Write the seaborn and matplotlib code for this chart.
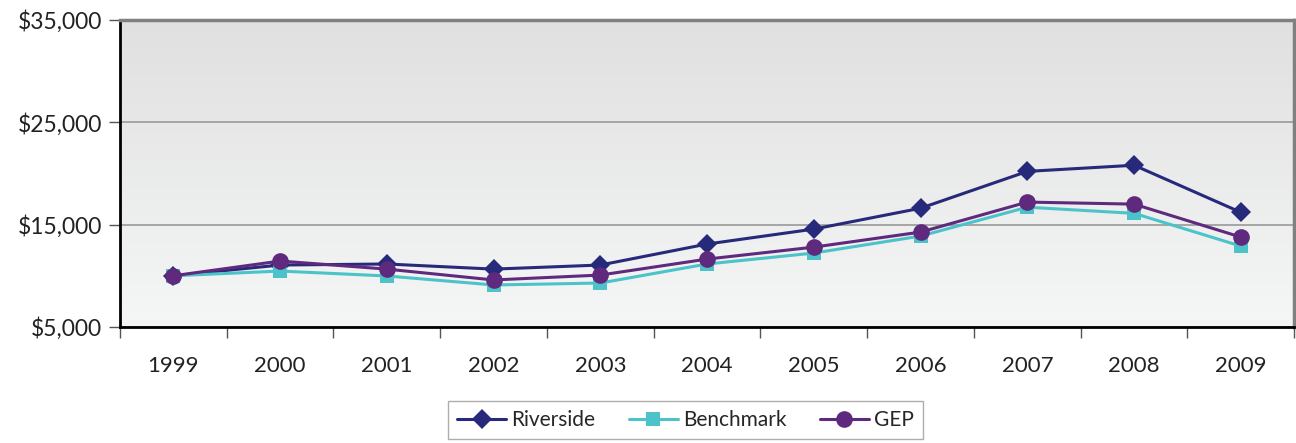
import numpy as np
import pandas as pd
import matplotlib
matplotlib.use('Agg')
import matplotlib.pyplot as plt
import matplotlib.ticker as plticker
import seaborn as sns

years = [1999, 2000, 2001, 2002, 2003, 2004, 2005, 2006, 2007, 2008, 2009]
riverside = [10000, 11050, 11150, 10650, 11050, 13100, 14560, 16600, 20200, 20800, 16200]
benchmark = [10000, 10460, 9980, 9100, 9290, 11150, 12220, 13880, 16700, 16100, 12900]
gep = [10000, 11440, 10650, 9590, 10070, 11630, 12800, 14270, 17200, 17000, 13780]
series_names = ['Riverside', 'Benchmark', 'GEP']
y_ticks = [5000, 15000, 25000, 35000]

df = pd.DataFrame({
    'year': years * 3,
    'value': riverside + benchmark + gep,
    'series': sum([[n] * len(years) for n in series_names], []),
})

sns.set_style('white')
plt.rcParams['font.family'] = ['Lato', 'DejaVu Sans']

colors = {'Riverside': '#27297a', 'Benchmark': '#4cc3c8', 'GEP': '#5f2a7e'}
markers = {'Riverside': 'D', 'Benchmark': 's', 'GEP': 'o'}
msizes = {'Riverside': 10, 'Benchmark': 10, 'GEP': 12}

fig = plt.figure(figsize=(12.96, 4.43), dpi=100)
ax = fig.add_axes([0.0926, 0.262, 0.906, 0.693])

# gradient background
grad = np.linspace(0, 1, 256).reshape(-1, 1)
ax.imshow(grad, extent=[0, 1, 0, 1], transform=ax.transAxes, aspect='auto',
          cmap=matplotlib.colors.LinearSegmentedColormap.from_list('g', ['#f5f6f6', '#e0e0e0']),
          origin='lower', zorder=0)

for name in series_names:
    sub = df[df['series'] == name]
    sns.lineplot(data=sub, x='year', y='value', ax=ax, color=colors[name],
                 marker=markers[name], markersize=msizes[name], markeredgewidth=0,
                 linewidth=2.2, label=name, zorder=3)

ax.set_xlim(1998.5, 2009.5)
ax.set_ylim(5000, 35000)
ax.set_yticks(y_ticks)
ax.yaxis.set_major_formatter(plticker.FuncFormatter(lambda v, p: '${:,.0f}'.format(v)))
ax.set_xticks(years)
ax.set_xticks(np.arange(1998.5, 2010, 1), minor=True)
ax.tick_params(axis='x', which='major', length=0, pad=21, labelsize=16, colors='#222222')
ax.tick_params(axis='x', which='minor', length=8, width=1, color='#555555', direction='out', bottom=True)
ax.tick_params(axis='y', length=8, width=1, color='#555555', direction='out', left=True, labelsize=16.5,
               labelcolor='#222222', pad=5)
ax.grid(axis='y', color='#a0a0a0', linewidth=1.3, zorder=1)
ax.set_axisbelow(True)
ax.set_xlabel('')
ax.set_ylabel('')

for side in ['left', 'bottom']:
    ax.spines[side].set_color('#000000')
    ax.spines[side].set_linewidth(2)
for side in ['top', 'right']:
    ax.spines[side].set_color('#808080')
    ax.spines[side].set_linewidth(2.5)

leg = ax.legend(loc='center', bbox_to_anchor=(0.529, 0.052), bbox_transform=fig.transFigure,
                ncol=3, frameon=True, fancybox=False, fontsize=15, handlelength=2.35,
                columnspacing=1.6, handletextpad=0.25, borderpad=0.45)
leg.get_frame().set_edgecolor('#999999')
leg.get_frame().set_linewidth(1)

fig.savefig('out.png', dpi=100)
